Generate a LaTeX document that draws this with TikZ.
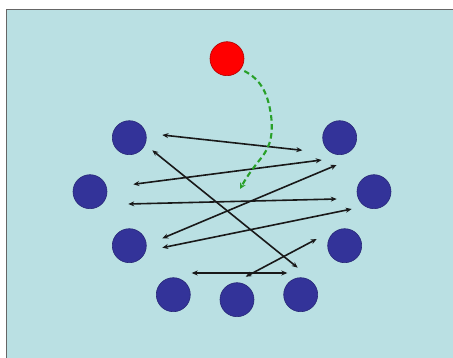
\documentclass[tikz,border=0pt]{standalone}
\usetikzlibrary{arrows.meta}
\definecolor{bg}{RGB}{186,224,227}
\definecolor{dotblue}{RGB}{51,51,153}
\definecolor{dotedge}{RGB}{40,40,120}
\definecolor{dashgreen}{RGB}{40,160,40}
\begin{document}
\begin{tikzpicture}[x=1pt,y=-1pt,
  dot/.style={circle,fill=dotblue,draw=dotedge,line width=0.6pt,minimum size=34pt,inner sep=0pt},
  reddot/.style={circle,fill=red,draw=red!70!black,line width=0.6pt,minimum size=34pt,inner sep=0pt},
  link/.style={{Stealth[length=6pt,width=5pt]}-{Stealth[length=6pt,width=5pt]},line width=1.6pt,black!90},
  path/.style={-{Stealth[length=6pt,width=6pt]},dashgreen,line width=2.1pt,dash pattern=on 5.5pt off 3.5pt}]
\useasboundingbox (0,0) rectangle (453,358);
\fill[white] (0,0) rectangle (453,358);
\fill[bg] (6,9) rectangle (453,358);
\draw[gray!80!black,line width=0.8pt] (6,358) -- (6,9) -- (453,9);
% nodes
\node[reddot] (r) at (227,58.7) {};
\node[dot] (l1) at (129.3,137.7) {};
\node[dot] (r1) at (339.7,137.7) {};
\node[dot] (l2) at (90,191.7) {};
\node[dot] (r2) at (374,191.7) {};
\node[dot] (l3) at (129.3,245.7) {};
\node[dot] (r3) at (344.7,245.7) {};
\node[dot] (b1) at (173.3,294.7) {};
\node[dot] (b2) at (237,299.7) {};
\node[dot] (b3) at (300.7,294.7) {};
% arrow end points
\coordinate (a1s) at (162.3,135);   \coordinate (a1e) at (302.3,150.3);
\coordinate (a2s) at (152.3,150.3); \coordinate (a2e) at (297.7,267.7);
\coordinate (a3s) at (133.3,184.3); \coordinate (a3e) at (321.7,160);
\coordinate (a4s) at (128.3,204);   \coordinate (a4e) at (336.7,199);
\coordinate (a5s) at (162.3,238.3); \coordinate (a5e) at (336.7,165);
\coordinate (a6s) at (162.3,247.7); \coordinate (a6e) at (351.7,209);
\coordinate (a7s) at (191.7,273);   \coordinate (a7e) at (287.3,273);
\coordinate (a8s) at (245.7,276.7); \coordinate (a8e) at (316.7,239);
\coordinate (gs) at (244.3,71);
\coordinate (ge) at (240,189);
% connectors
\draw[link] (a1s) -- (a1e);
\draw[link] (a2s) -- (a2e);
\draw[link] (a3s) -- (a3e);
\draw[link] (a4s) -- (a4e);
\draw[link] (a5s) -- (a5e);
\draw[link] (a6s) -- (a6e);
\draw[link] (a7s) -- (a7e);
\draw[link] (a8s) -- (a8e);
\draw[path] (gs) .. controls (262,80) and (268,95) .. (271,115)
  .. controls (274,140) and (268,150) .. (258,162)
  .. controls (250,172) and (245,180) .. (ge);
\end{tikzpicture}
\end{document}
